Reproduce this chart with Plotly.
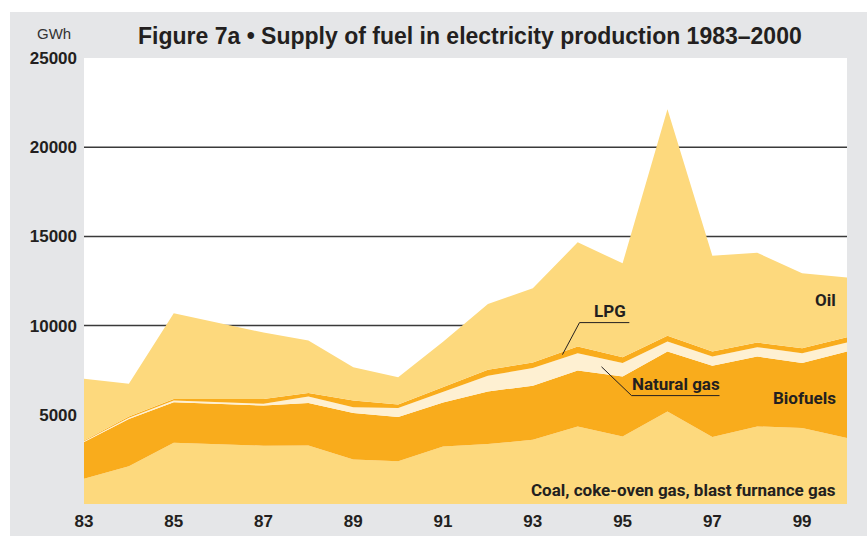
import plotly.graph_objects as go

# Fuel supplied to electricity production, GWh
years = list(range(1983, 2001))
coal = [1420, 2110, 3440, 3350, 3270, 3285, 2490, 2390, 3230, 3360, 3600, 4350, 3790, 5190, 3755, 4350, 4260, 3700]
biofuels = [2055, 2650, 2270, 2270, 2250, 2375, 2610, 2480, 2460, 2950, 3030, 3130, 3360, 3355, 3990, 3915, 3640, 4845]
natural_gas = [45, 70, 90, 100, 100, 370, 330, 510, 580, 875, 990, 975, 750, 560, 520, 525, 555, 505]
lpg = [40, 70, 80, 160, 260, 190, 370, 200, 280, 335, 310, 370, 330, 320, 280, 260, 280, 300]
oil = [3460, 1840, 4810, 4270, 3730, 2940, 1870, 1530, 2550, 3690, 4160, 5845, 5260, 12705, 5375, 5035, 4195, 3340]

x_ticks = [1983, 1985, 1987, 1989, 1991, 1993, 1995, 1997, 1999]
x_tick_labels = ["83", "85", "87", "89", "91", "93", "95", "97", "99"]
y_ticks = [5000, 10000, 15000, 20000, 25000]
y_tick_labels = ["5000", "10000", "15000", "20000", "25000"]
grid_lines = [10000, 15000, 20000]

LIGHT = "#FDD97D"
ORANGE = "#F9AC1C"
PALE = "#FEF0D2"
GREY = "#E5E6E8"
TEXT = "#231F20"
LABEL_FONT = "Roboto, Liberation Sans, Arial, sans-serif"
SANS = "Liberation Sans, Arial, sans-serif"

series = [
    ("Coal, coke-oven gas, blast furnance gas", coal, LIGHT),
    ("Biofuels", biofuels, ORANGE),
    ("Natural gas", natural_gas, PALE),
    ("LPG", lpg, ORANGE),
    ("Oil", oil, LIGHT),
]

fig = go.Figure()
for name, vals, color in series:
    fig.add_trace(go.Scatter(
        x=years, y=vals, name=name, mode="lines", stackgroup="one",
        line=dict(width=0, color=color), fillcolor=color, hoverinfo="skip",
    ))

# horizontal rules (drawn under the areas)
for g in grid_lines:
    fig.add_shape(type="line", xref="x", yref="y", x0=1983, x1=2000, y0=g, y1=g,
                  line=dict(color="#3A3A3A", width=1.5), layer="below")

# white margins outside the grey panel
fig.add_shape(type="rect", xref="paper", yref="paper", x0=-0.2, x1=-0.097, y0=-0.2, y1=1.3,
              fillcolor="white", line=dict(width=0), layer="below")
fig.add_shape(type="rect", xref="paper", yref="paper", x0=-0.2, x1=1.1, y0=1.103, y1=1.3,
              fillcolor="white", line=dict(width=0), layer="below")

# leader lines
fig.add_shape(type="path", xref="x", yref="y",
              path="M 1993.66,8374 L 1994.04,10168 L 1995.15,10168",
              line=dict(color=TEXT, width=1))
fig.add_shape(type="path", xref="x", yref="y",
              path="M 1994.53,7691 L 1995.20,6076 L 1997.16,6076",
              line=dict(color=TEXT, width=1))

label_font = dict(family=LABEL_FONT, size=17, color=TEXT, weight="bold")
labels = [
    ("LPG", 1994.73, 10841, "center"),
    ("Natural gas", 1996.20, 6749, "center"),
    ("Oil", 1999.81, 11457, "right"),
    ("Biofuels", 1999.81, 5964, "right"),
    ("Coal, coke-oven gas, blast furnance gas", 1999.81, 807, "right"),
]
for text, lx, ly, anchor in labels:
    fig.add_annotation(x=lx, y=ly, xref="x", yref="y", text=text, showarrow=False,
                       xanchor=anchor, yanchor="middle", font=label_font)

fig.add_annotation(x=0.506, y=1.05, xref="paper", yref="paper",
                   text="Figure 7a • Supply of fuel in electricity production 1983–2000",
                   showarrow=False, xanchor="center", yanchor="middle",
                   font=dict(family=SANS, size=23, color=TEXT, weight="bold"))
fig.add_annotation(x=-0.0393, y=1.056, xref="paper", yref="paper", text="GWh",
                   showarrow=False, xanchor="center", yanchor="middle",
                   font=dict(family=SANS, size=15, color="#333333"))

fig.update_layout(
    width=867, height=536,
    margin=dict(l=84, r=20, t=58, b=32),
    paper_bgcolor=GREY, plot_bgcolor="white",
    showlegend=False,
    xaxis=dict(range=[1983, 2000], tickvals=x_ticks, ticktext=x_tick_labels,
               showgrid=False, zeroline=False, showline=False, ticks="",
               tickfont=dict(family=SANS, size=17, color=TEXT, weight="bold"),
               ticklabelstandoff=5, automargin=False),
    yaxis=dict(range=[0, 25000], tickvals=y_ticks, ticktext=y_tick_labels,
               showgrid=False, zeroline=False, showline=False, ticks="",
               tickfont=dict(family=SANS, size=17, color=TEXT, weight="bold"),
               ticklabelstandoff=6, automargin=False),
)

fig.write_html("out.html", config={"displayModeBar": False},
               post_script="document.body.style.margin = '0';")
